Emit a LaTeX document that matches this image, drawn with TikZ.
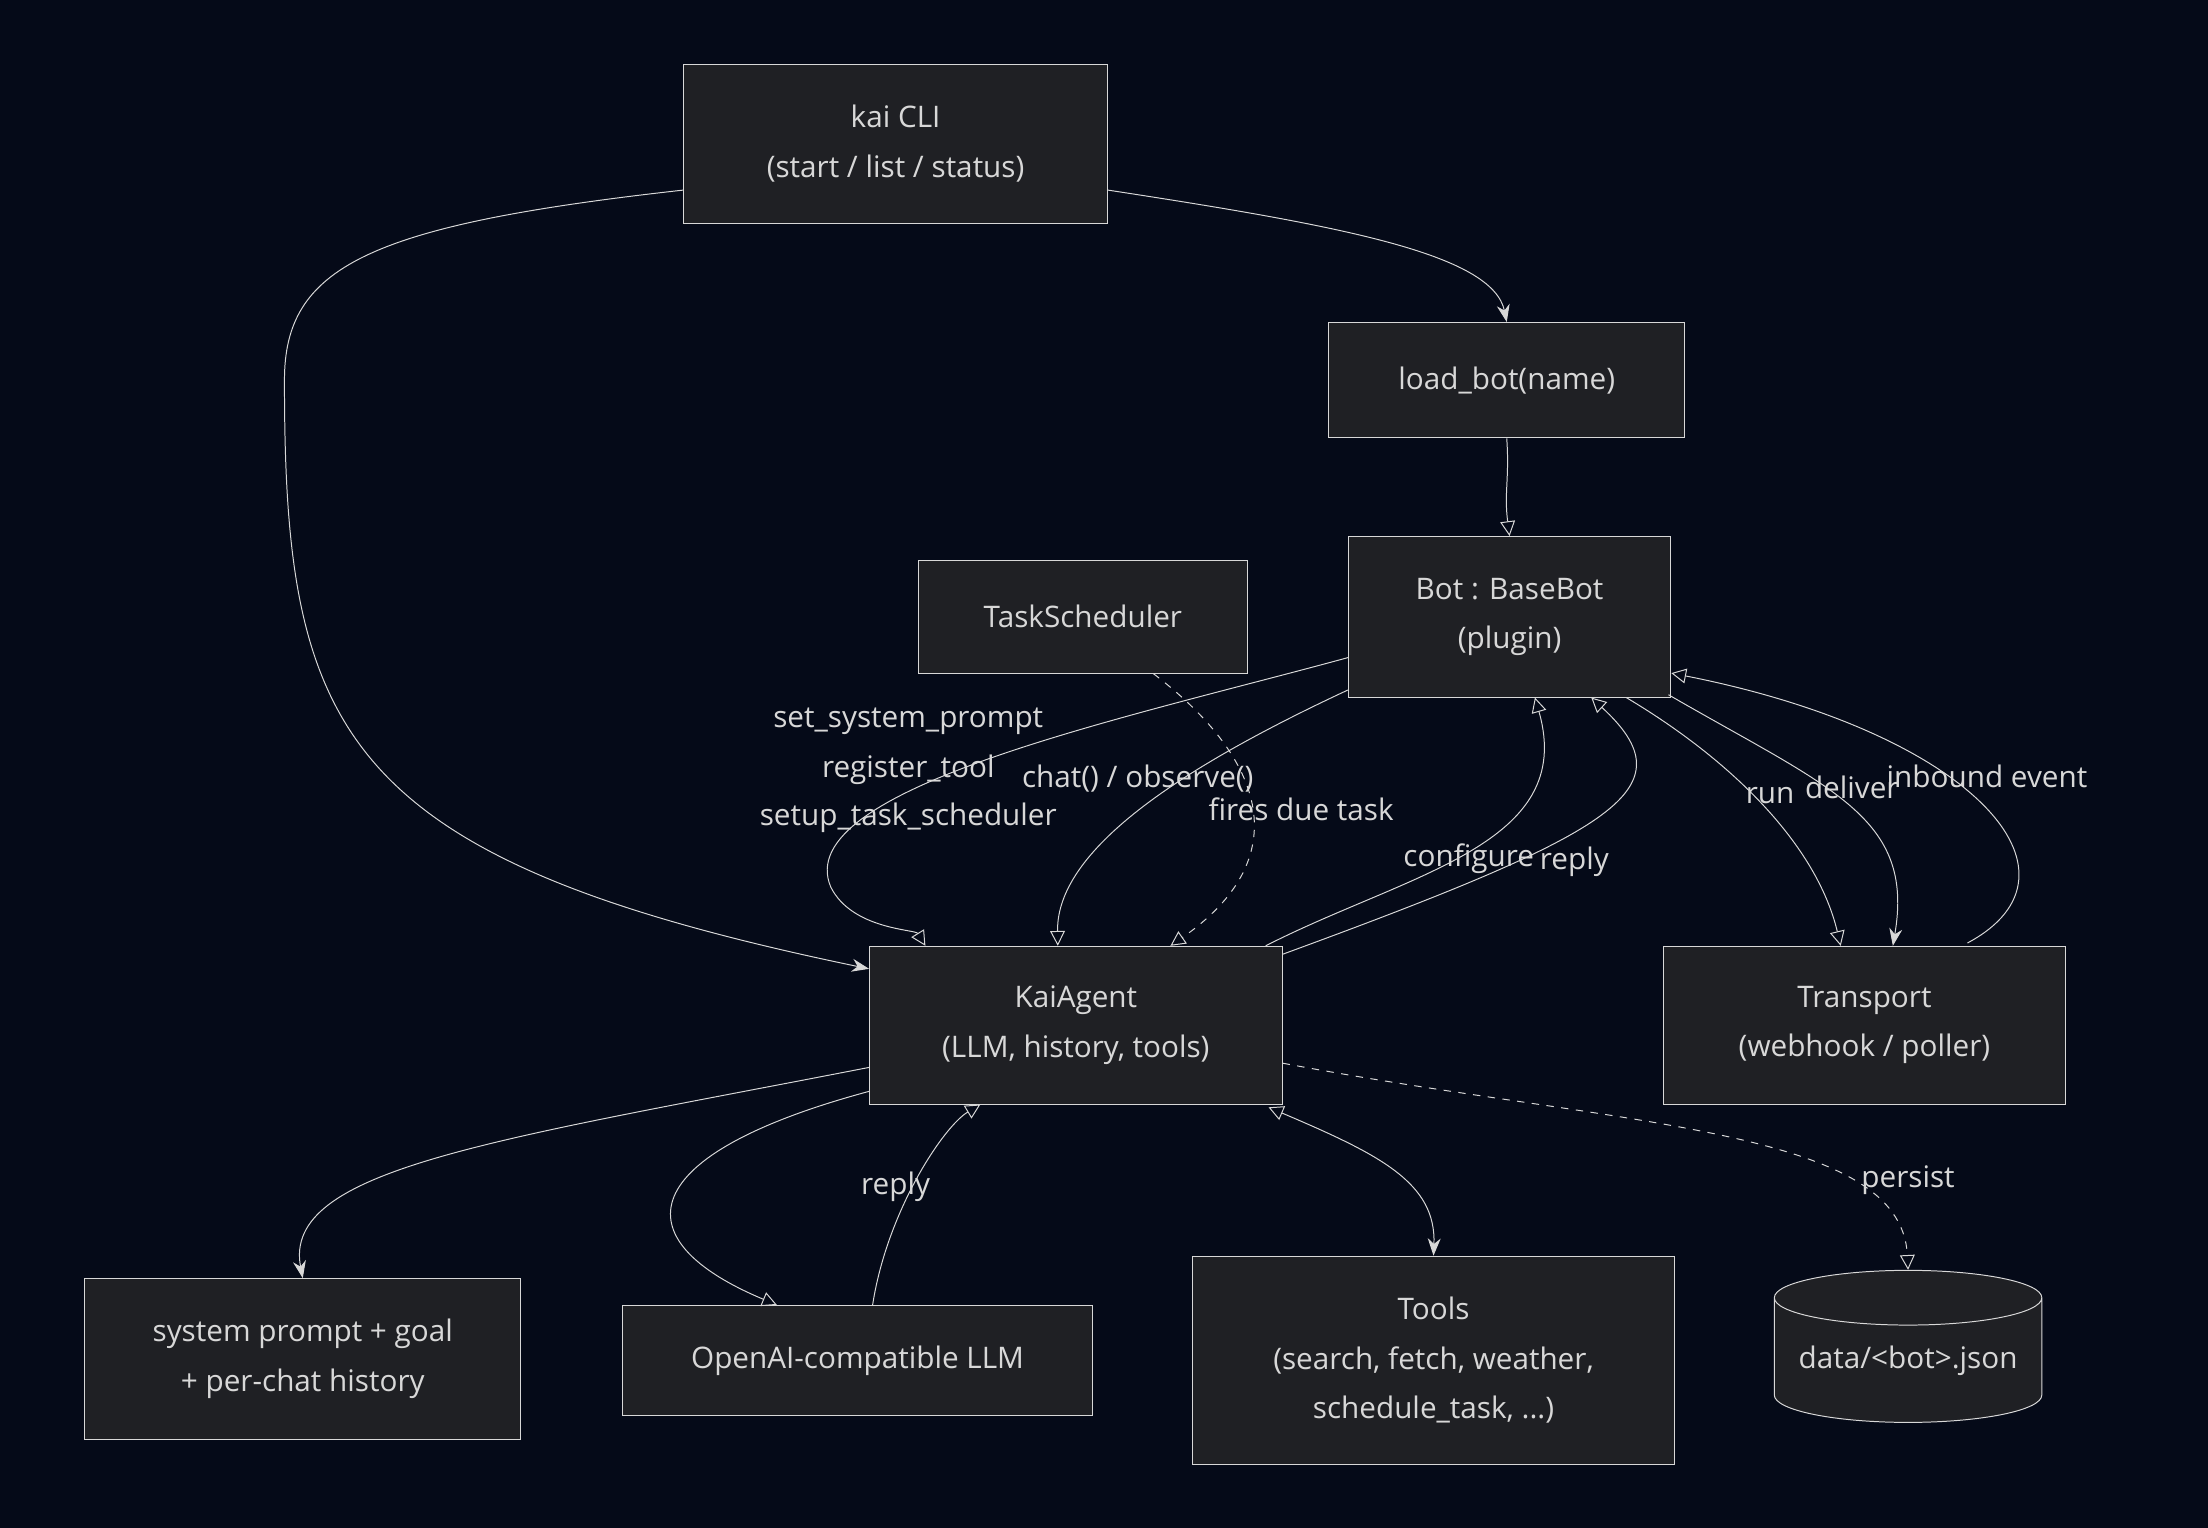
\documentclass[tikz,border=0pt]{standalone}
\usepackage{fontspec}
\setmainfont{Open Sans}
\usepackage{tikz}
\usetikzlibrary{positioning,arrows.meta,shapes.geometric,calc,patterns}
\definecolor{bgdark}{HTML}{050A18}
\definecolor{boxfill}{HTML}{1F2024}
\definecolor{ink}{HTML}{D8D8D8}
\tikzset{
  box/.style={draw=ink, fill=boxfill, text=ink, align=center, font=\fontsize{12}{20}\selectfont, inner sep=0pt},
  lbl/.style={text=ink, font=\fontsize{12}{14}\selectfont, inner sep=1pt},
  flow/.style={draw=ink, -{Stealth[length=7pt]}},
  oflow/.style={draw=ink, -{Triangle[open,length=6pt,width=6pt]}},
  dflow/.style={draw=ink, dashed, -{Triangle[open,length=6pt,width=6pt]}},
}
\begin{document}
\begin{tikzpicture}[x=0.02cm, y=-0.02cm]
    \fill[bgdark] (0,0) rectangle (1568,1085);
    \useasboundingbox (0,0) rectangle (1568,1085);

    % boxes
    \node[box, minimum width=6.02cm, minimum height=2.26cm] (cli) at (636,102) {kai CLI\\(start / list / status)};
    \node[box, minimum width=5.06cm, minimum height=1.64cm] (load) at (1070,270) {load\_bot(name)};
    \node[box, minimum width=4.58cm, minimum height=2.28cm] (bot) at (1072,438) {Bot : BaseBot\\(plugin)};
    \node[box, minimum width=4.68cm, minimum height=1.6cm] (sched) at (769,438) {TaskScheduler};
    \node[box, minimum width=5.86cm, minimum height=2.24cm] (agent) at (764,728) {KaiAgent\\(LLM, history, tools)};
    \node[box, minimum width=5.7cm, minimum height=2.24cm] (transport) at (1324,728) {Transport\\(webhook / poller)};
    \node[box, minimum width=6.2cm, minimum height=2.28cm] (memory) at (215,965) {system prompt + goal\\+ per-chat history};
    \node[box, minimum width=6.68cm, minimum height=1.56cm] (llm) at (609,966) {OpenAI-compatible LLM};
    \node[box, minimum width=6.84cm, minimum height=2.96cm] (tools) at (1018,966) {Tools\\(search, fetch, weather,\\schedule\_task, ...)};
    \node[box, cylinder, shape border rotate=90, aspect=0.25, minimum width=3.8cm, minimum height=2.16cm] (data) at (1355,966) {\raisebox{-0.3cm}{data/<bot>.json}};

    % CLI
    \draw[flow] ($(cli.west)+(0,33)$) .. controls (260,160) and (202,190) .. (202,270)
        .. controls (202,520) and (240,610) .. ($(agent.west)+(0,-40)$);
    \draw[flow] ($(cli.east)+(0,33)$) .. controls (950,160) and (1060,180) .. (load.north);
    \draw[oflow] (load.south) .. controls (1072,340) and (1068,350) .. (bot.north);

    % bot to agent
    \draw[oflow] ($(bot.west)+(0,29)$) .. controls (800,510) and (560,560) .. (590,630)
        .. controls (605,660) and (650,660) .. ($(agent.north west)+(40,0)$);
    \draw[oflow] ($(bot.west)+(0,52)$) .. controls (850,540) and (750,600) .. ($(agent.north west)+(134,0)$);
    \draw[dflow] (sched.south) ++(50,0) .. controls (900,540) and (920,610) .. ($(agent.north west)+(214,0)$);
    \draw[oflow] ($(agent.north east)+(-12,0)$) .. controls (1000,620) and (1120,600) .. ($(bot.south)+(18,0)$);
    \draw[oflow] ($(agent.north east)+(0,6)$) .. controls (1150,590) and (1200,560) .. ($(bot.south)+(58,0)$);

    % bot and transport
    \draw[oflow] ($(bot.south east)+(-32,0)$) .. controls (1230,540) and (1290,600) .. ($(transport.north west)+(126,0)$);
    \draw[flow] ($(bot.south east)+(-2,-2)$) .. controls (1300,560) and (1360,580) .. ($(transport.north west)+(163,0)$);
    \draw[oflow] ($(transport.north west)+(216,-2)$) .. controls (1490,620) and (1400,520) .. ($(bot.east)+(0,40)$);

    % agent below
    \draw[flow] ($(agent.west)+(0,30)$) .. controls (350,810) and (200,830) .. (memory.north);
    \draw[oflow] ($(agent.west)+(0,47)$) .. controls (450,820) and (440,880) .. ($(llm.north west)+(110,0)$);
    \draw[oflow] ($(llm.north west)+(178,0)$) .. controls (630,860) and (670,800) .. ($(agent.south west)+(79,0)$);
    \draw[draw=ink, {Triangle[open,length=6pt,width=6pt]}-{Stealth[length=7pt]}] ($(agent.south east)+(-10,2)$) .. controls (980,820) and (1020,840) .. (tools.north);
    \draw[dflow] ($(agent.east)+(0,27)$) .. controls (1150,800) and (1350,800) .. (data.top);

    % labels
    \node[lbl] (l1) at (645,512) {set\_system\_prompt};
    \node[lbl] (l2) at (645,547) {register\_tool};
    \node[lbl] (l3) at (645,581) {setup\_task\_scheduler};
    \node[lbl] (l4) at (808,553) {chat() / observe()};
    \node[lbl] (l5) at (924,575) {fires due task};
    \node[lbl] (l6) at (1043,610) {configure};
    \node[lbl] (l7) at (1118,612) {reply};
    \node[lbl] (l8) at (1257,565) {run};
    \node[lbl] (l9) at (1315,559) {deliver};
    \node[lbl] (l10) at (1411,551) {inbound event};
    \node[lbl] (l11) at (636,843) {reply};
    \node[lbl] (l12) at (1355,838) {persist};
\end{tikzpicture}
\end{document}
